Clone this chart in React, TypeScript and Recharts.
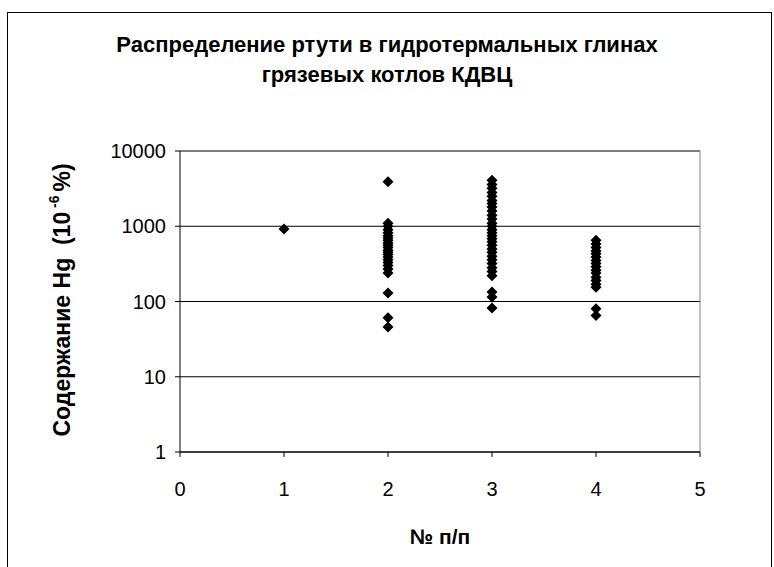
import React from 'react';
import { ScatterChart, Scatter, XAxis, YAxis, CartesianGrid, ReferenceLine } from 'recharts';

const FONT = '"Liberation Sans", Arial, sans-serif';

// Hg content (10^-6 %) per sample group
const group1 = [920];
const group2 = [3900, 1100, 1000, 900, 820, 750, 700, 650, 600, 560, 520, 480, 450, 420, 390, 360, 330, 300, 270, 240, 130, 61, 46];
const group3 = [4100, 3600, 3200, 2800, 2500, 2200, 2000, 1800, 1600, 1400, 1250, 1100, 1000, 900, 820, 750, 680, 620, 560, 500, 450, 400, 360, 320, 280, 250, 220, 134, 115, 82];
const group4 = [650, 580, 520, 470, 430, 390, 350, 320, 290, 260, 240, 210, 190, 170, 155, 80, 65];

const xTicks = [0, 1, 2, 3, 4, 5];
const yTicks = [1, 10, 100, 1000, 10000];

const points = [
  ...group1.map(v => ({ x: 1, y: v })),
  ...group2.map(v => ({ x: 2, y: v })),
  ...group3.map(v => ({ x: 3, y: v })),
  ...group4.map(v => ({ x: 4, y: v })),
];

const Diamond = (props: any) => {
  const { cx, cy } = props;
  const r = 5.5;
  return <polygon points={`${cx},${cy - r} ${cx + r},${cy} ${cx},${cy + r} ${cx - r},${cy}`} fill="#000" />;
};

export default function App() {
  return (
    <div style={{ position: 'fixed', left: 0, top: 0, width: 774, height: 567, overflow: 'hidden', background: '#fff', fontFamily: FONT }}>
      <div style={{ position: 'absolute', left: 7, top: 12, width: 765, height: 555, boxSizing: 'border-box', borderTop: '1px solid #000', borderLeft: '1px solid #000', borderRight: '1px solid #000' }} />
      <div style={{ position: 'absolute', left: 0, top: 30, width: 774, textAlign: 'center', fontWeight: 'bold', fontSize: 22, lineHeight: '30px' }}>
        <div>Распределение ртути в гидротермальных глинах</div>
        <div>грязевых котлов КДВЦ</div>
      </div>
      <div style={{ position: 'absolute', left: 0, top: 0 }}>
        <ScatterChart width={774} height={567} margin={{ top: 151, right: 74, bottom: 0, left: 0 }}>
          <CartesianGrid vertical={false} horizontal stroke="#000" fill="none" />
          <XAxis
            type="number"
            dataKey="x"
            domain={[0, 5]}
            ticks={xTicks}
            height={115}
            axisLine={{ stroke: '#000' }}
            tickLine={{ stroke: '#000' }}
            tickSize={5}
            tickMargin={25}
            tick={{ fill: '#000', fontSize: 20, fontFamily: FONT }}
            label={{
              content: () => (
                <text x={440} y={536} textAnchor="middle" dominantBaseline="central" fontSize={21} fontWeight="bold" fontFamily={FONT} fill="#000">
                  № п/п
                </text>
              ),
            }}
          />
          <YAxis
            type="number"
            dataKey="y"
            scale="log"
            domain={[1, 10000]}
            ticks={yTicks}
            allowDataOverflow
            width={180}
            axisLine={{ stroke: '#000' }}
            tickLine={{ stroke: '#000' }}
            tickSize={5}
            tickMargin={9}
            tick={{ fill: '#000', fontSize: 20, fontFamily: FONT }}
            label={{
              content: () => (
                <text x={62} y={300} transform="rotate(-90 62 300)" textAnchor="middle" dominantBaseline="central" fontSize={23} fontWeight="bold" fontFamily={FONT} fill="#000">
                  Содержание Hg{'\u00a0\u00a0'}(10<tspan fontSize={14} dy={-8}>{'\u00a0-6\u00a0'}</tspan><tspan dy={8}>%)</tspan>
                </text>
              ),
            }}
          />
          <ReferenceLine x={5} stroke="#808080" />
          <ReferenceLine y={10000} stroke="#808080" />
          <Scatter data={points} shape={<Diamond />} isAnimationActive={false} />
        </ScatterChart>
      </div>
    </div>
  );
}
